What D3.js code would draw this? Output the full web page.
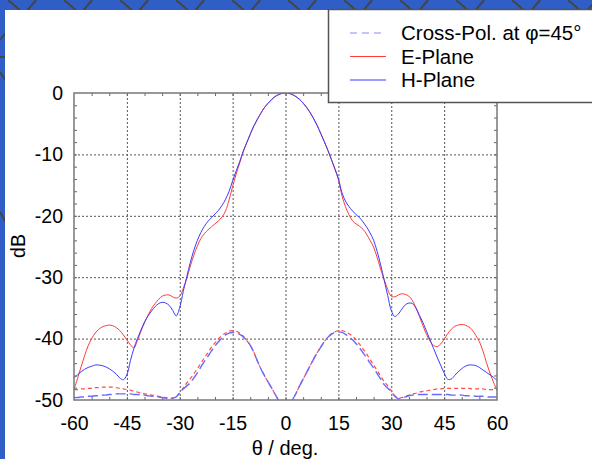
<!DOCTYPE html>
<html>
<head>
<meta charset="utf-8">
<script src="https://cdn.jsdelivr.net/npm/d3@7"></script>
<style>
  body { margin: 0; background: #fff; }
  svg { display: block; font-family: "Liberation Sans", Arial, sans-serif; }
  .tick-lbl text { font-size: 19.5px; fill: #000; }
  .grid line { stroke: #555; stroke-width: 1; stroke-dasharray: 2,2; }
  .minor line { stroke: #666; stroke-width: 1; }
</style>
</head>
<body>
<svg id="chart" width="592" height="459"></svg>
<script>
// angles, degrees
const theta = d3.range(-60, 61, 1);

// E-plane co-pol, dB
const ePlane = [
  -48.3, -46.5, -44.6, -42.8, -41.2, -40.0, -39.1, -38.5, -38.1, -37.9,
  -37.8, -37.9, -38.2, -38.7, -39.4, -40.2, -41.0, -41.5, -40.3, -38.8,
  -37.4, -36.2, -35.1, -34.3, -33.6, -33.1, -32.9, -32.9, -33.2, -33.4,
  -33.1, -31.8, -30.2, -28.2, -26.4, -24.9, -23.7, -22.9, -22.3, -21.8,
  -21.3, -20.8, -20.2, -19.2, -17.4, -15.2, -13.2, -11.4, -9.6, -8.1,
  -6.7, -5.4, -4.3, -3.3, -2.4, -1.7, -1.1, -0.6, -0.27, -0.07,
  0,
  -0.07, -0.27, -0.6, -1.05, -1.65, -2.35, -3.2, -4.2, -5.3, -6.6,
  -7.9, -9.3, -10.8, -12.4, -14.1, -16.7, -18.5, -19.8, -20.8, -21.3,
  -21.7, -22.2, -23.0, -24.0, -25.1, -26.8, -28.7, -30.4, -32.0, -33.1,
  -33.2, -32.9, -32.7, -32.8, -33.1, -33.8, -35.0, -36.4, -37.9, -39.3,
  -40.4, -41.1, -41.3, -40.9, -40.1, -39.2, -38.5, -38.0, -37.8, -37.7,
  -37.8, -38.1, -38.6, -39.5, -40.5, -42.0, -43.9, -45.6, -47.1, -48.4
];

// H-plane co-pol, dB
const hPlane = [
  -46.4, -45.9, -45.4, -45.0, -44.7, -44.5, -44.3, -44.3, -44.4, -44.6,
  -44.9, -45.3, -45.8, -46.4, -46.7, -45.9, -43.6, -41.6, -40.0, -38.6,
  -37.3, -36.3, -35.5, -34.8, -34.3, -34.1, -34.2, -34.6, -35.4, -36.3,
  -34.9, -32.3, -29.9, -27.6, -25.6, -24.0, -22.7, -21.7, -20.9, -20.3,
  -19.7, -19.1, -18.3, -17.3, -16.0, -14.3, -12.7, -11.2, -9.5, -8.1,
  -6.7, -5.4, -4.3, -3.3, -2.4, -1.7, -1.1, -0.6, -0.27, -0.07,
  0,
  -0.07, -0.27, -0.6, -1.05, -1.65, -2.35, -3.2, -4.2, -5.3, -6.6,
  -7.9, -9.3, -10.8, -12.3, -13.9, -16.2, -17.6, -18.5, -19.2, -19.8,
  -20.3, -21.0, -21.8, -22.8, -24.0, -25.8, -28.0, -30.5, -33.0, -35.4,
  -36.4, -36.0, -35.2, -34.5, -34.2, -34.3, -35.0, -36.2, -37.4, -38.8,
  -40.2, -41.6, -43.0, -44.3, -45.6, -46.6, -46.6, -46.0, -45.4, -44.9,
  -44.5, -44.3, -44.3, -44.4, -44.7, -45.1, -45.5, -45.9, -46.3, -46.8
];

// cross-pol at phi=45, blue trace, dB
const xPolBlue = [
  -49.6, -49.6, -49.5, -49.5, -49.4, -49.4, -49.3, -49.3, -49.2, -49.2,
  -49.1, -49.1, -49.0, -49.0, -49.0, -49.0, -49.0, -49.1, -49.1, -49.2,
  -49.2, -49.3, -49.4, -49.4, -49.5, -49.6, -49.7, -49.7, -49.7, -49.5,
  -48.8, -48.2, -47.7, -47.2, -46.4, -45.6, -44.6, -43.7, -42.9, -42.0,
  -41.2, -40.5, -39.9, -39.4, -39.1, -39.0, -39.1, -39.3, -39.7, -40.3,
  -41.1, -42.2, -43.6, -44.9, -46.0, -47.0, -48.0, -49.0, -50.1, -52.0,
  -56.0,
  -52.0, -50.0, -48.9, -47.7, -46.6, -45.5, -44.4, -43.3, -42.3, -41.4,
  -40.5, -39.8, -39.3, -39.0, -38.9, -39.0, -39.3, -39.7, -40.2, -40.8,
  -41.5, -42.3, -43.1, -44.0, -44.8, -45.7, -46.6, -47.5, -48.1, -48.6,
  -49.4, -49.8, -49.7, -49.5, -49.3, -49.2, -49.1, -49.1, -49.1, -49.1,
  -49.1, -49.1, -49.1, -49.1, -49.1, -49.1, -49.2, -49.2, -49.2, -49.2,
  -49.3, -49.3, -49.3, -49.4, -49.4, -49.4, -49.5, -49.5, -49.5, -49.5
];

// cross-pol at phi=45, red trace, dB
const xPolRed = [
  -48.3, -48.3, -48.2, -48.2, -48.1, -48.1, -48.0, -48.0, -47.9, -47.9,
  -47.9, -47.9, -48.0, -48.1, -48.2, -48.3, -48.4, -48.6, -48.7, -48.9,
  -49.0, -49.1, -49.2, -49.3, -49.4, -49.5, -49.6, -49.7, -49.7, -49.4,
  -48.9, -48.0, -47.2, -46.5, -45.7, -44.9, -44.0, -43.1, -42.3, -41.4,
  -40.7, -40.0, -39.5, -39.1, -38.8, -38.7, -38.8, -39.1, -39.6, -40.3,
  -41.1, -42.2, -43.6, -44.9, -46.0, -47.0, -48.0, -49.0, -50.1, -52.0,
  -56.0,
  -52.0, -50.0, -48.9, -47.7, -46.6, -45.5, -44.4, -43.3, -42.3, -41.4,
  -40.5, -39.8, -39.2, -38.9, -38.7, -38.7, -38.9, -39.2, -39.6, -40.2,
  -40.9, -41.7, -42.5, -43.4, -44.3, -45.2, -46.1, -47.0, -47.7, -48.5,
  -49.3, -49.7, -49.6, -49.4, -49.2, -49.0, -48.9, -48.7, -48.6, -48.5,
  -48.4, -48.3, -48.2, -48.2, -48.1, -48.1, -48.1, -48.1, -48.1, -48.1,
  -48.1, -48.1, -48.2, -48.2, -48.2, -48.2, -48.3, -48.3, -48.3, -48.3
];

const xTicks = [-60, -45, -30, -15, 0, 15, 30, 45, 60];
const yTicks = [0, -10, -20, -30, -40, -50];
const legendLabels = ["Cross-Pol. at \u03c6=45\u00b0", "E-Plane", "H-Plane"];

const W = 592, H = 459;
const plot = { left: 74, right: 497, top: 93, bottom: 400 };

const svg = d3.select("#chart");

// blue backdrop with dark web lines, white page on top
svg.append("rect").attr("width", W).attr("height", H).attr("fill", "#2f5fc6");
const web = svg.append("g").attr("stroke", "#454545").attr("stroke-width", 2).attr("fill", "none");
for (let i = 0; i < 24; i++) {
  const x0 = i * 28 - 20;
  web.append("line").attr("x1", x0).attr("y1", 0).attr("x2", x0 + (i % 2 ? 14 : -10)).attr("y2", 12);
}
web.append("line").attr("x1", 0).attr("y1", 57).attr("x2", 8).attr("y2", 57);
web.append("line").attr("x1", 0).attr("y1", 72).attr("x2", 8).attr("y2", 84);
web.append("line").attr("x1", 0).attr("y1", 212).attr("x2", 8).attr("y2", 226);
web.append("line").attr("x1", 0).attr("y1", 40).attr("x2", 8).attr("y2", 30);
svg.append("rect").attr("x", 5).attr("y", 10).attr("width", W - 5).attr("height", H - 10).attr("fill", "#fff");

const x = d3.scaleLinear().domain([-60, 60]).range([plot.left, plot.right]);
const y = d3.scaleLinear().domain([-50, 0]).range([plot.bottom, plot.top]);
const pw = plot.right - plot.left, ph = plot.bottom - plot.top;

// dotted grid
svg.append("g").attr("class", "grid")
  .attr("transform", `translate(0,${plot.bottom})`)
  .call(d3.axisBottom(x).tickValues(xTicks.slice(1, -1)).tickSize(-ph).tickFormat(""))
  .call(g => g.select(".domain").remove());
svg.append("g").attr("class", "grid")
  .attr("transform", `translate(${plot.left},0)`)
  .call(d3.axisLeft(y).tickValues(yTicks.slice(1, -1)).tickSize(-pw).tickFormat(""))
  .call(g => g.select(".domain").remove());

// minor inner ticks on all four sides
const xMinor = d3.range(-55, 60, 5), yMinor = d3.range(-48, 0, 2);
[[d3.axisBottom(x).tickValues(xMinor), `translate(0,${plot.bottom})`],
 [d3.axisTop(x).tickValues(xMinor), `translate(0,${plot.top})`]].forEach(([ax, tr]) => {
  svg.append("g").attr("class", "minor").attr("transform", tr)
    .call(ax.tickSize(-3).tickFormat(""))
    .call(g => g.select(".domain").remove());
});
[[d3.axisLeft(y).tickValues(yMinor), `translate(${plot.left},0)`],
 [d3.axisRight(y).tickValues(yMinor), `translate(${plot.right},0)`]].forEach(([ax, tr]) => {
  svg.append("g").attr("class", "minor").attr("transform", tr)
    .call(ax.tickSize(-3).tickFormat(""))
    .call(g => g.select(".domain").remove());
});

// curves, clipped to the plot box
svg.append("clipPath").attr("id", "clip").append("rect")
  .attr("x", plot.left).attr("y", plot.top).attr("width", pw).attr("height", ph);
const line = d3.line().x((d, i) => x(theta[i])).y(d => y(d)).curve(d3.curveCatmullRom);
const curves = svg.append("g").attr("clip-path", "url(#clip)").attr("fill", "none");
curves.append("path").attr("d", line(xPolRed)).attr("stroke", "#ff4a4a").attr("stroke-width", 1.2).attr("stroke-dasharray", "4,3");
curves.append("path").attr("d", line(xPolBlue)).attr("stroke", "#6a6aff").attr("stroke-width", 1.4).attr("stroke-dasharray", "10,4");
curves.append("path").attr("d", line(ePlane)).attr("stroke", "#ff3b3b").attr("stroke-width", 1);
curves.append("path").attr("d", line(hPlane)).attr("stroke", "#3b3bff").attr("stroke-width", 1);

// frame
svg.append("rect").attr("x", plot.left).attr("y", plot.top).attr("width", pw).attr("height", ph)
  .attr("fill", "none").attr("stroke", "#777").attr("stroke-width", 1.5);

// tick labels
svg.append("g").attr("class", "tick-lbl")
  .attr("transform", `translate(0,${plot.bottom})`)
  .call(d3.axisBottom(x).tickValues(xTicks).tickSize(0).tickPadding(16).tickFormat(d3.format("d")))
  .call(g => g.select(".domain").remove());
svg.append("g").attr("class", "tick-lbl")
  .attr("transform", `translate(${plot.left},0)`)
  .call(d3.axisLeft(y).tickValues(yTicks).tickSize(0).tickPadding(11).tickFormat(d3.format("d")))
  .call(g => g.select(".domain").remove());
svg.selectAll(".tick-lbl text")
  .attr("font-family", "Liberation Sans, Arial, sans-serif")
  .text(function () { return this.textContent.replace("\u2212", "-"); });

// axis titles
svg.append("text").attr("x", 285).attr("y", 455).attr("text-anchor", "middle")
  .attr("font-size", 20).text("\u03b8 / deg.");
svg.append("text").attr("transform", "translate(25,246) rotate(-90)").attr("text-anchor", "middle")
  .attr("font-size", 19.5).text("dB");

// legend
const lg = svg.append("g");
lg.append("rect").attr("x", 328.5).attr("y", 9.5).attr("width", 280).attr("height", 93)
  .attr("fill", "#fff").attr("stroke", "#555").attr("stroke-width", 1.5);
const legendStyles = [
  { stroke: "#8888ff", dash: "7,5" },
  { stroke: "#ff3b3b", dash: null },
  { stroke: "#3b3bff", dash: null }
];
legendLabels.forEach((lab, i) => {
  const ly = 33 + i * 23.5;
  lg.append("line").attr("x1", 350).attr("x2", 386).attr("y1", ly).attr("y2", ly)
    .attr("stroke", legendStyles[i].stroke).attr("stroke-width", 1.2)
    .attr("stroke-dasharray", legendStyles[i].dash);
  lg.append("text").attr("x", 401).attr("y", ly + 7).attr("font-size", 20.5).text(lab);
});
</script>
</body>
</html>
